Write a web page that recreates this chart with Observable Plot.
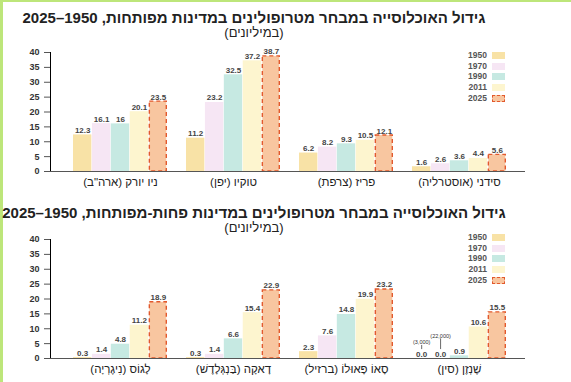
<!DOCTYPE html>
<html><head><meta charset="utf-8">
<script src="https://cdn.jsdelivr.net/npm/d3@7"></script>
<script src="https://cdn.jsdelivr.net/npm/@observablehq/plot@0.6"></script>
<style>
body{margin:0;width:571px;height:382px;position:relative;overflow:hidden;background:#fff;font-family:"Liberation Sans",Arial,sans-serif;}
#frame{position:absolute;left:0;top:0;width:571px;height:382px;border-left:3px solid #bde67a;border-top:2px solid #bde67a;box-sizing:border-box;pointer-events:none;}
.title{position:absolute;left:0;width:508px;text-align:center;direction:rtl;font-weight:bold;font-size:15px;line-height:15px;color:#222;white-space:nowrap;}
.sub{position:absolute;left:0;width:508px;text-align:center;direction:rtl;font-size:13px;line-height:13px;color:#222;}
.chart{position:absolute;left:0;}
.legend{position:absolute;left:440px;width:70px;font-size:8.5px;font-weight:bold;color:#555;}
.legend .row{position:absolute;left:0;height:11px;width:66px;}
.legend .lab{position:absolute;right:19px;top:0;line-height:11px;}
.legend .sw{position:absolute;left:52px;top:2px;width:13px;height:7px;box-sizing:border-box;}
</style></head>
<body>
<div id="frame"></div>
<div class="title" id="t1" style="top:10px"></div>
<div class="sub" id="s1" style="top:26px"></div>
<div class="chart" id="c1" style="top:40px"></div>
<div class="legend" id="l1" style="top:50px"></div>
<div class="title" id="t2" style="top:205px"></div>
<div class="sub" id="s2" style="top:221px"></div>
<div class="chart" id="c2" style="top:229px"></div>
<div class="legend" id="l2" style="top:232px"></div>
<script>
// ---- data ----
const years = ["1950", "1970", "1990", "2011", "2025"];
const yearColors = ["#f8e2a6", "#f6e6f4", "#c6e9e2", "#fdf5cf", "#f8c6a0"];
const yTicks = [0, 5, 10, 15, 20, 25, 30, 35, 40];

const title1 = "גידול האוכלוסייה במבחר מטרופולינים במדינות מפותחות, 1950–2025";
const title2 = "גידול האוכלוסייה במבחר מטרופולינים במדינות פחות-מפותחות, 1950–2025";
const subtitle = "(במיליונים)";

const devCities = ["ניו יורק (ארה\"ב)", "טוקיו (יפן)", "פריז (צרפת)", "סידני (אוסטרליה)"];
const dev1950 = [12.3, 11.2, 6.2, 1.6];
const dev1970 = [16.1, 23.2, 8.2, 2.6];
const dev1990 = [16, 32.5, 9.3, 3.6];
const dev2011 = [20.1, 37.2, 10.5, 4.4];
const dev2025 = [23.5, 38.7, 12.1, 5.6];

const lessCities = ["לָגוֹס (נִיגֶרְיָה)", "דָאקָה (בַּנְגְּלָדֶשׁ)", "סָאוֹ פָּאוּלוֹ (ברזיל)", "שֶׁנְזֶן (סין)"];
const less1950 = [0.3, 0.3, 2.3, 0.0];
const less1970 = [1.4, 1.4, 7.6, 0.0];
const less1990 = [4.8, 6.6, 14.8, 0.9];
const less2011 = [11.2, 15.4, 19.9, 10.6];
const less2025 = [18.9, 22.9, 23.2, 15.5];

// annotations for Shenzhen (actual small populations)
const noteCity = "שֶׁנְזֶן (סין)";
const noteYearIdx = [0, 1];
const noteText = ["(3,000)", "(22,000)"];
const noteLineFrom = [3.0, 3.0];
const noteLineTo = [4.4, 6.6];

// ---- build ----
const FONT = "'Liberation Sans', Arial, sans-serif";
const fmt = v => (Number.isInteger(v) && v !== 0) ? String(v) : v.toFixed(1);

function build(cities, series, opts) {
  const rows = cities.flatMap((c, ci) => years.map((y, yi) => ({city: c, year: y, yi, value: series[yi][ci]})));
  const xOpts = {type: "band", domain: cities, range: [50, 525], paddingInner: 0.167, paddingOuter: 0.176, align: 0.55};
  const bw = Plot.scale({x: xOpts}).bandwidth;
  const w = bw / 5;
  const marks = [];
  years.forEach((y, yi) => {
    const sub = rows.filter(d => d.yi === yi);
    const extra = yi === 4 ? {stroke: "#e2592d", strokeWidth: 1.4, strokeDasharray: "4,3"} : {};
    marks.push(Plot.barY(sub, {x: "city", y: "value", fill: "year", insetLeft: yi * w + (yi === 4 ? 0.7 : 0), insetRight: (4 - yi) * w + (yi === 4 ? 0.7 : 0), ...extra}));
  });
  years.forEach((y, yi) => {
    const sub = rows.filter(d => d.yi === yi);
    marks.push(Plot.text(sub, {x: "city", y: "value", text: d => fmt(d.value), dx: (yi - 2) * w, dy: -2, lineAnchor: "bottom", fontSize: 8, fontWeight: "bold", fill: "#444"}));
  });
  if (opts.notes) {
    noteYearIdx.forEach((yi, k) => {
      const d = [{city: noteCity, from: noteLineFrom[k], to: noteLineTo[k], label: noteText[k]}];
      marks.push(Plot.ruleX(d, {x: "city", y1: "from", y2: "to", dx: (yi - 2) * w, stroke: "#444", strokeWidth: 0.8}));
      marks.push(Plot.text(d, {x: "city", y: "to", text: "label", dx: (yi - 2) * w, dy: -1, lineAnchor: "bottom", fontSize: 5.5, fill: "#333"}));
    });
  }
  marks.push(Plot.ruleY([0], {stroke: "#555", strokeWidth: 1}));
  return Plot.plot({
    width: 571,
    height: opts.height,
    marginLeft: 50,
    marginRight: 46,
    marginTop: opts.top,
    marginBottom: 22,
    style: {fontFamily: FONT, background: "transparent", overflow: "visible"},
    x: {...xOpts, axis: "bottom", label: null, tickSize: 0, tickPadding: 6, tickFormat: d => "\u202B" + d + "\u202C"},
    y: {domain: [0, 40], ticks: yTicks, tickSize: 6, tickPadding: 5, label: null, line: true},
    color: {domain: years, range: yearColors},
    marks
  });
}

function styleAxes(svg) {
  d3.select(svg).selectAll("g[aria-label='x-axis tick label'] text, g[aria-label='x-axis'] text")
    .attr("font-size", 11.5).attr("fill", "#222");
  d3.select(svg).selectAll("g[aria-label='y-axis tick label'] text, g[aria-label='y-axis'] g text")
    .attr("font-size", 9).attr("fill", "#333").attr("font-weight", "bold");
  d3.select(svg).selectAll("g[aria-label='y-axis tick'], g[aria-label='y-axis line'], g[aria-label='y-axis']")
    .attr("stroke", "#555");
}

const svg1 = build(devCities, [dev1950, dev1970, dev1990, dev2011, dev2025], {height: 153, top: 12});
const svg2 = build(lessCities, [less1950, less1970, less1990, less2011, less2025], {height: 151, top: 10, notes: true});
styleAxes(svg1); styleAxes(svg2);
document.getElementById("c1").appendChild(svg1);
document.getElementById("c2").appendChild(svg2);

document.getElementById("t1").textContent = title1;
document.getElementById("t2").textContent = title2;
document.getElementById("s1").textContent = subtitle;
document.getElementById("s2").textContent = subtitle;

function legend(id) {
  const el = document.getElementById(id);
  years.forEach((y, i) => {
    const row = document.createElement("div");
    row.className = "row";
    row.style.top = (i * 10.7) + "px";
    const lab = document.createElement("span");
    lab.className = "lab"; lab.textContent = y;
    const sw = document.createElement("span");
    sw.className = "sw"; sw.style.background = yearColors[i];
    if (i === 4) sw.style.border = "1.3px dashed #e2592d";
    row.appendChild(lab); row.appendChild(sw);
    el.appendChild(row);
  });
}
legend("l1"); legend("l2");
</script>
</body></html>
